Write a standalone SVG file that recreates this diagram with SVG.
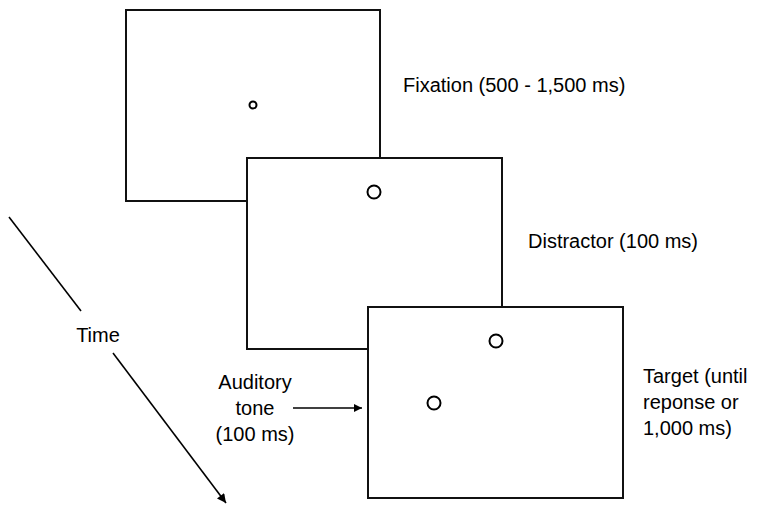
<svg xmlns="http://www.w3.org/2000/svg" width="762" height="512" viewBox="0 0 762 512">
<defs>
<marker id="ah" viewBox="0 0 10 10" refX="10" refY="5" markerWidth="10" markerHeight="8" markerUnits="userSpaceOnUse" orient="auto">
<path d="M0,0 L10,5 L0,10 z" fill="#000"/>
</marker>
<marker id="ah2" viewBox="0 0 10 10" refX="10" refY="5" markerWidth="11" markerHeight="9" markerUnits="userSpaceOnUse" orient="auto">
<path d="M0,0 L10,5 L0,10 z" fill="#000"/>
</marker>
</defs>
<style>
.screen{fill:#fff;stroke:#111;stroke-width:2}
.dot{fill:none;stroke:#000;stroke-width:2}
.lbl{font-family:"Liberation Sans",Arial,sans-serif;font-size:20px;fill:#000}
.ln{stroke:#000;stroke-width:1.6;fill:none}
</style>
<rect width="762" height="512" fill="#fff"/>
<g id="fixation">
<rect class="screen" x="126" y="10" width="254" height="191"/>
<circle class="dot" cx="253" cy="105" r="3.5"/>
<text class="lbl" x="403" y="92">Fixation (500 - 1,500 ms)</text>
</g>
<g id="distractor">
<rect class="screen" x="247" y="158" width="255" height="191"/>
<circle class="dot" cx="374" cy="192" r="6.5"/>
<text class="lbl" x="528" y="248">Distractor (100 ms)</text>
</g>
<g id="target">
<rect class="screen" x="368" y="307" width="255" height="191"/>
<circle class="dot" cx="496" cy="341" r="6.5"/>
<circle class="dot" cx="434" cy="403" r="6.5"/>
<text class="lbl" x="643" y="383">Target (until</text>
<text class="lbl" x="643" y="409">reponse or</text>
<text class="lbl" x="643" y="435">1,000 ms)</text>
</g>
<g id="time">
<text class="lbl" x="98" y="342" text-anchor="middle">Time</text>
</g>
<g id="tone">
<text class="lbl" x="255" y="389" text-anchor="middle">Auditory</text>
<text class="lbl" x="255" y="415" text-anchor="middle">tone</text>
<text class="lbl" x="255" y="441" text-anchor="middle">(100 ms)</text>
</g>
<g id="connectors">
<line class="ln" x1="9" y1="217" x2="81" y2="311"/>
<line class="ln" x1="113" y1="353" x2="226" y2="503" marker-end="url(#ah2)"/>
<line class="ln" x1="293" y1="408" x2="362" y2="408" marker-end="url(#ah)"/>
</g>
</svg>
